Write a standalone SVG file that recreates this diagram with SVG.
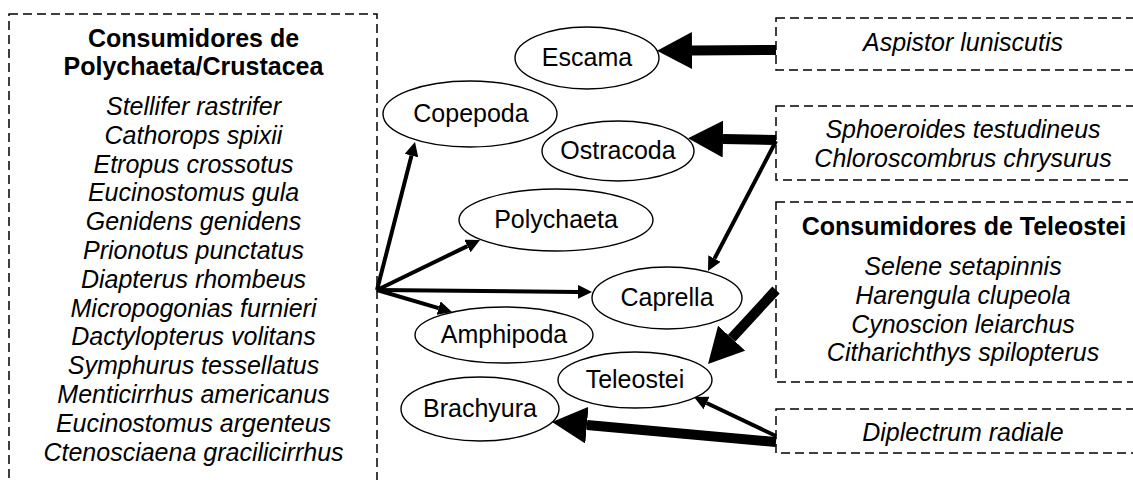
<svg xmlns="http://www.w3.org/2000/svg" width="1133" height="480" viewBox="0 0 1133 480">
  <style>
    .box { fill: none; stroke: #000; stroke-width: 1.5; stroke-dasharray: 9 5; }
    .node { fill: #fff; stroke: #000; stroke-width: 1.4; }
    .lbl { font-family: "Liberation Sans", Arial, sans-serif; font-size: 25px; fill: #000; text-anchor: middle; }
    .sp { font-style: italic; }
    .hd { font-weight: bold; }
    .thin { stroke: #000; stroke-width: 4; fill: none; marker-end: url(#headThin); }
    .thick { stroke: #000; stroke-width: 10; fill: none; marker-end: url(#headThick); }
  </style>
  <defs>
    <marker id="headThin" markerUnits="userSpaceOnUse" markerWidth="15" markerHeight="14" refX="0" refY="7" orient="auto">
      <path d="M0,0 L14,7 L0,14 z" fill="#000"/>
    </marker>
    <marker id="headThick" markerUnits="userSpaceOnUse" markerWidth="36" markerHeight="37" refX="0" refY="18.5" orient="auto">
      <path d="M0,0 L35,18.5 L0,37 z" fill="#000"/>
    </marker>
  </defs>
  <rect width="1133" height="480" fill="#fff"/>

  <!-- consumer groups -->
  <g id="consumidores-polychaeta-crustacea">
    <rect class="box" x="9" y="14" width="368" height="480"/>
    <text class="lbl hd" x="193.5" y="47">Consumidores de</text>
    <text class="lbl hd" x="193.5" y="75">Polychaeta/Crustacea</text>
    <text class="lbl sp" x="193.5" y="115">Stellifer rastrifer</text>
    <text class="lbl sp" x="193.5" y="143.8">Cathorops spixii</text>
    <text class="lbl sp" x="193.5" y="172.6">Etropus crossotus</text>
    <text class="lbl sp" x="193.5" y="201.4">Eucinostomus gula</text>
    <text class="lbl sp" x="193.5" y="230.2">Genidens genidens</text>
    <text class="lbl sp" x="193.5" y="259">Prionotus punctatus</text>
    <text class="lbl sp" x="193.5" y="287.8">Diapterus rhombeus</text>
    <text class="lbl sp" x="193.5" y="316.6">Micropogonias furnieri</text>
    <text class="lbl sp" x="193.5" y="345.4">Dactylopterus volitans</text>
    <text class="lbl sp" x="193.5" y="374.2">Symphurus tessellatus</text>
    <text class="lbl sp" x="193.5" y="403">Menticirrhus americanus</text>
    <text class="lbl sp" x="193.5" y="431.8">Eucinostomus argenteus</text>
    <text class="lbl sp" x="193.5" y="460.6">Ctenosciaena gracilicirrhus</text>
  </g>

  <g id="aspistor">
    <rect class="box" x="776" y="18" width="370" height="52"/>
    <text class="lbl sp" x="963" y="51">Aspistor luniscutis</text>
  </g>

  <g id="sphoeroides-chloroscombrus">
    <rect class="box" x="776" y="106" width="370" height="74"/>
    <text class="lbl sp" x="963" y="138">Sphoeroides testudineus</text>
    <text class="lbl sp" x="963" y="167">Chloroscombrus chrysurus</text>
  </g>

  <g id="consumidores-teleostei">
    <rect class="box" x="776" y="202" width="370" height="180"/>
    <text class="lbl hd" x="964" y="235">Consumidores de Teleostei</text>
    <text class="lbl sp" x="963" y="275">Selene setapinnis</text>
    <text class="lbl sp" x="963" y="303.8">Harengula clupeola</text>
    <text class="lbl sp" x="963" y="332.6">Cynoscion leiarchus</text>
    <text class="lbl sp" x="963" y="361.4">Citharichthys spilopterus</text>
  </g>

  <g id="diplectrum">
    <rect class="box" x="776" y="409" width="370" height="44"/>
    <text class="lbl sp" x="963" y="441">Diplectrum radiale</text>
  </g>

  <!-- prey items -->
  <g id="escama">
    <ellipse class="node" cx="587" cy="58" rx="72" ry="31"/>
    <text class="lbl" x="587" y="66">Escama</text>
  </g>
  <g id="copepoda">
    <ellipse class="node" cx="470" cy="114" rx="87" ry="33"/>
    <text class="lbl" x="471" y="122">Copepoda</text>
  </g>
  <g id="ostracoda">
    <ellipse class="node" cx="618" cy="151" rx="76" ry="30"/>
    <text class="lbl" x="618" y="159">Ostracoda</text>
  </g>
  <g id="polychaeta">
    <ellipse class="node" cx="556" cy="220" rx="97" ry="31"/>
    <text class="lbl" x="556" y="228">Polychaeta</text>
  </g>
  <g id="caprella">
    <ellipse class="node" cx="667" cy="298" rx="75" ry="31"/>
    <text class="lbl" x="667" y="306">Caprella</text>
  </g>
  <g id="amphipoda">
    <ellipse class="node" cx="504" cy="335" rx="89" ry="28"/>
    <text class="lbl" x="504" y="343">Amphipoda</text>
  </g>
  <g id="teleostei">
    <ellipse class="node" cx="635" cy="380" rx="77" ry="28"/>
    <text class="lbl" x="635" y="388">Teleostei</text>
  </g>
  <g id="brachyura">
    <ellipse class="node" cx="480" cy="409" rx="79" ry="32"/>
    <text class="lbl" x="480" y="417">Brachyura</text>
  </g>

  <!-- feeding links -->
  <g id="connectors">
    <line class="thin" x1="377" y1="290" x2="411.5" y2="155.6"/>
    <line class="thin" x1="377" y1="290" x2="467.4" y2="246.1"/>
    <line class="thin" x1="377" y1="290" x2="578" y2="291.9"/>
    <line class="thin" x1="377" y1="290" x2="438.6" y2="308.1"/>
    <line class="thin" x1="776" y1="141" x2="714.5" y2="258.6"/>
    <line class="thin" x1="776" y1="436" x2="706.6" y2="403"/>
    <line class="thick" x1="776" y1="50" x2="692" y2="50.5"/>
    <line class="thick" x1="776" y1="140" x2="723" y2="139"/>
    <line class="thick" x1="776" y1="290" x2="731.7" y2="338.2"/>
    <line class="thick" x1="776" y1="442" x2="586.9" y2="425.1"/>
  </g>
</svg>
